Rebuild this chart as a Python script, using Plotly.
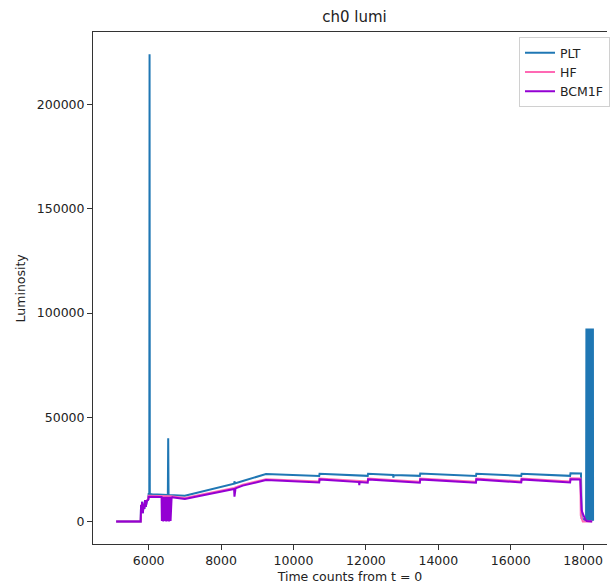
import plotly.graph_objects as go

# ---------------- data ----------------
plt_x = [5103, 5780, 5790, 5805, 5820, 5840, 5860, 5880, 5900, 5920, 5950,
         5990, 6000, 6018, 6025, 6032, 6100, 6530, 6540, 6550, 7000,
         7300, 7600, 7900, 8200, 8360, 8370, 8380, 8600, 8900, 9240,
         10710, 10720, 12050, 12060, 12750, 12760, 12770, 13490, 13500,
         15040, 15050, 16290, 16300, 17640, 17650, 17940, 17960, 18063,
         18072, 18081, 18090, 18099, 18108, 18117, 18126, 18135, 18144,
         18153, 18162, 18171, 18180, 18189, 18198, 18207, 18216, 18225,
         18234, 18243, 18252, 18261, 18270, 18274]
plt_y = [0, 0, 7900, 4500, 9500, 4000, 8500, 6000, 10300, 7000, 9800,
         10500, 13200, 13200, 224200, 13200, 13100, 12700, 39900, 12700, 12400,
         13600, 14800, 16000, 17300, 18100, 19300, 18300, 19400, 20900, 22800,
         21800, 22900, 21900, 22900, 22300, 21000, 22300, 21900, 23000,
         21800, 22900, 21900, 22900, 21900, 23100, 23000, 1500, 500,
         92600, 400, 92600, 300, 92600, 500, 92600, 200, 92600,
         400, 92600, 300, 92600, 500, 92600, 200, 92600, 400,
         92600, 300, 92600, 500, 92600, 300]

hf_x = [5103, 5780, 5800, 5850, 5900, 5950, 5990, 6000, 6350, 6630, 7000,
        7300, 7600, 7900, 8200, 8360, 8600, 8900, 9240,
        10710, 10720, 12050, 12060, 13490, 13500, 15040, 15050,
        16290, 16300, 17640, 17650, 17925, 17935, 17990, 18250]
hf_y = [0, 0, 8200, 6000, 9000, 9800, 10900, 12300, 12200, 12100, 11300,
        12300, 13300, 14400, 15400, 16100, 17700, 18900, 20300,
        19200, 20600, 19200, 20600, 19100, 20600, 19100, 20600,
        19200, 20600, 19200, 20700, 20600, 3000, 0, 0]

bcm_x = [5103, 5780, 5790, 5805, 5820, 5840, 5860, 5880, 5900, 5920, 5950,
         5990, 6000, 6357, 6365, 6375, 6385, 6395, 6405, 6415, 6425, 6435,
         6445, 6455, 6465, 6475, 6485, 6495, 6505, 6515, 6525, 6535, 6545,
         6555, 6565, 6575, 6585, 6595, 6605, 6615, 6625, 6635, 6645, 7000,
         7300, 7600, 7900, 8200, 8360, 8370, 8380, 8400, 8600, 8900, 9240,
         10710, 10720, 11810, 11818, 11826, 12050, 12060, 13490, 13500,
         15040, 15050, 16290, 16300, 17640, 17650, 17920, 17935, 17960,
         17980, 18020, 18060, 18100, 18250]
bcm_y = [0, 0, 7900, 4500, 9500, 4000, 8500, 6000, 10300, 7000, 9800,
         10500, 11900, 11800, 200, 11700, 1200, 11800, 0, 11600, 2500, 11800,
         300, 11700, 800, 11800, 0, 11600, 3000, 11800, 200, 11700, 900,
         11800, 0, 11600, 1800, 11800, 300, 11700, 600, 11800, 11600, 10800,
         11900, 12900, 14000, 15000, 15600, 11900, 15700, 15900, 17200, 18400, 19900,
         18700, 20200, 18900, 17500, 18900, 18600, 20200, 18600, 20200,
         18600, 20200, 18700, 20200, 18700, 20300, 20200, 12000, 5500,
         4200, 2000, 900, 200, 0]

x_range = [4463, 18659]
y_range = [-10800, 234900]

# ---------------- figure ----------------
font_family = "DejaVu Sans"
fig = go.Figure()
fig.add_trace(go.Scatter(x=plt_x, y=plt_y, mode="lines", name="PLT",
                         line=dict(color="#1f77b4", width=2)))
fig.add_trace(go.Scatter(x=hf_x, y=hf_y, mode="lines", name="HF",
                         line=dict(color="#ff69b4", width=2)))
fig.add_trace(go.Scatter(x=bcm_x, y=bcm_y, mode="lines", name="BCM1F",
                         line=dict(color="#9400d3", width=2)))

fig.update_layout(
    width=610, height=587,
    margin=dict(l=93, r=0, t=32, b=43),
    paper_bgcolor="white", plot_bgcolor="white",
    font=dict(family=font_family, size=12.5, color="#222"),
    showlegend=True,
    legend=dict(x=1.006, y=0.99, xanchor="right", yanchor="top",
                bordercolor="#d0d0d0", borderwidth=1, bgcolor="white",
                font=dict(size=12.5, color="#222"), tracegroupgap=0),
    title=dict(text="ch0 lumi", x=354.5 / 610, xanchor="center",
               y=1 - 17 / 587, yanchor="middle",
               font=dict(size=15, color="#222")),
    xaxis=dict(range=x_range, dtick=2000, tick0=0, tickformat="d",
               showgrid=False, zeroline=False, showline=True, mirror=True,
               linecolor="#333", linewidth=1, ticks="outside", ticklen=5,
               tickcolor="#333",
               title=dict(text="Time counts from t = 0", standoff=5,
                          font=dict(size=12.5))),
    yaxis=dict(range=y_range, dtick=50000, tick0=0, tickformat="d",
               showgrid=False, zeroline=False, showline=True, mirror=False,
               linecolor="#333", linewidth=1, ticks="outside", ticklen=5,
               tickcolor="#333"),
)
fig.add_annotation(text="Luminosity", textangle=-90, xref="paper", yref="paper",
                   x=(20 - 93) / 517, y=0.5, xanchor="center", yanchor="middle",
                   showarrow=False, font=dict(size=12.5, color="#222"))

fig.write_html("out.html")
